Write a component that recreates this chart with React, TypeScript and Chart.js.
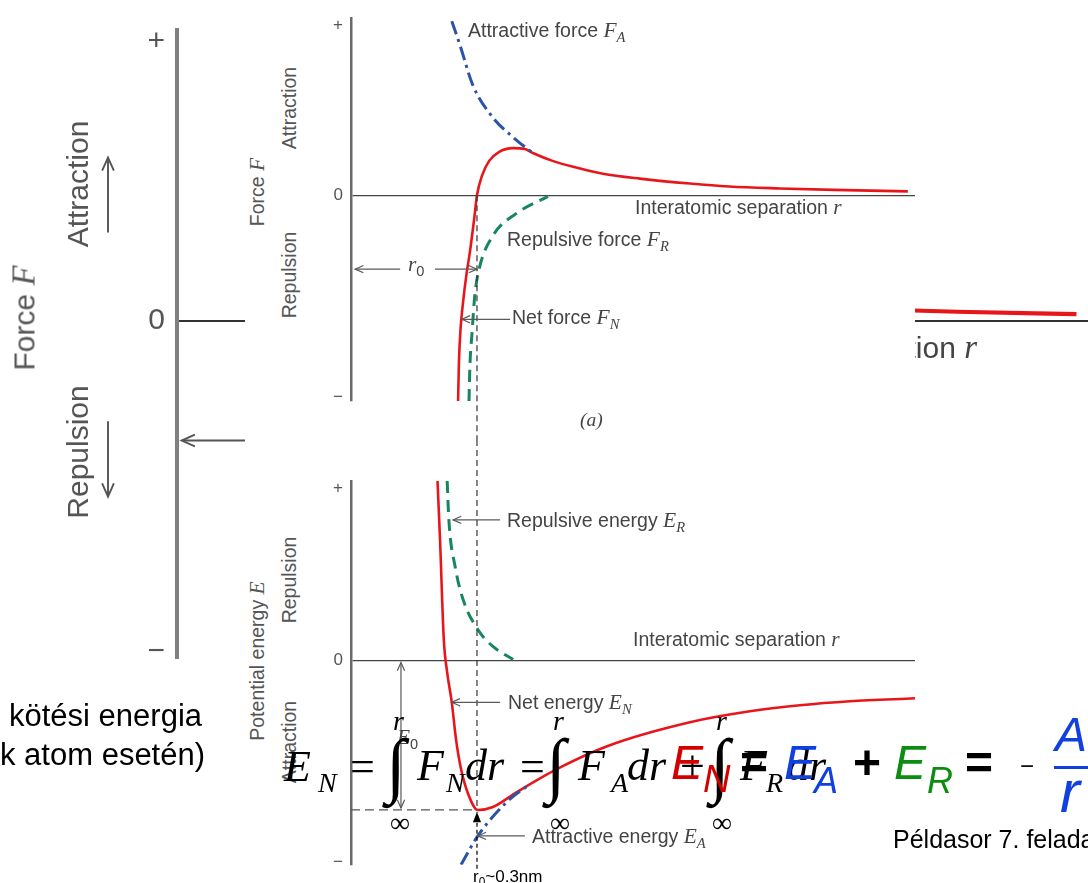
import React, { useEffect, useRef } from 'react';
import { Chart, registerables } from 'chart.js';
Chart.register(...registerables);

// ---------- data (r in nm, values in arbitrary units) ----------
const R_NET_FORCE = [0.255, 0.257, 0.261, 0.267, 0.275, 0.283, 0.293, 0.300, 0.312, 0.329, 0.352, 0.386, 0.414, 0.433, 0.480, 0.529, 0.600, 0.688, 0.807, 0.900, 1.021, 1.150, 1.326];
const NET_FORCE = [-2.09, -1.70, -1.35, -1.08, -0.80, -0.58, -0.25, 0, 0.20, 0.35, 0.44, 0.48, 0.47, 0.43, 0.35, 0.29, 0.22, 0.17, 0.12, 0.09, 0.07, 0.055, 0.04];
const R_ATTR_FORCE = [0.240, 0.260, 0.290, 0.338, 0.386, 0.433];
const ATTR_FORCE = [1.77, 1.52, 1.12, 0.79, 0.59, 0.43];
const R_REP_FORCE = [0.281, 0.283, 0.288, 0.295, 0.305, 0.338, 0.395, 0.469];
const REP_FORCE = [-2.09, -1.75, -1.41, -1.01, -0.75, -0.41, -0.18, -0.01];

const R_NET_ENERGY = [0.206, 0.212, 0.221, 0.229, 0.240, 0.250, 0.262, 0.279, 0.302, 0.338, 0.395, 0.490, 0.610, 0.807, 0.950, 1.069, 1.188, 1.343];
const NET_ENERGY = [1.80, 1.21, 0.21, -0.12, -0.42, -0.79, -1.09, -1.34, -1.50, -1.47, -1.32, -1.09, -0.86, -0.62, -0.51, -0.45, -0.41, -0.38];
const R_REP_ENERGY = [0.229, 0.233, 0.248, 0.267, 0.302, 0.338, 0.386];
const REP_ENERGY = [1.80, 1.41, 0.94, 0.61, 0.31, 0.14, 0.01];
const R_ATTR_ENERGY = [0.262, 0.302, 0.371, 0.426];
const ATTR_ENERGY = [-2.05, -1.76, -1.42, -1.24];

const R0 = 0.3;
const E0 = -1.5;
const R_MAX = 1.343;
const FORCE_RANGE = [-2.09, 1.80];
const ENERGY_RANGE = [-2.05, 1.80];
const FORCE_TICKS = [-2.05, 0, 1.73];
const ENERGY_TICKS = [-2.03, 0, 1.73];
const TICK_LABELS = ['\u2212', '0', '+'];

const RED = '#e8161b';
const GREEN = '#16875a';
const BLUE = '#2c54a6';
const SANS = '"Liberation Sans", Arial, Helvetica, sans-serif';
const SERIF = '"Liberation Serif", "Times New Roman", serif';

const zip = (xs: number[], ys: number[]) => xs.map((x, i) => ({ x, y: ys[i] }));

type XV = number | { dx: number };
type YV = number | 'top' | 'bottom';
type Item = { p1: [XV, YV]; p2: [XV, YV]; color?: string; width?: number; dash?: number[]; head?: 'open' | 'fill'; tail?: 'open' };

function makeDecor(items: Item[], scale = 1) {
  return {
    id: 'decor',
    afterDatasetsDraw(chart: any) {
      const ctx: CanvasRenderingContext2D = chart.ctx;
      const xs = chart.scales.x;
      const ys = chart.scales.y;
      const X = (v: XV) => (typeof v === 'object' ? chart.chartArea.left + v.dx : xs.getPixelForValue(v));
      const Y = (v: YV) => (v === 'top' ? 0 : v === 'bottom' ? chart.height : ys.getPixelForValue(v));
      const headLen = 9 * scale;
      const drawHead = (tx: number, ty: number, fx: number, fy: number, kind: string, color: string, w: number) => {
        const a = Math.atan2(ty - fy, tx - fx);
        ctx.save();
        ctx.setLineDash([]);
        ctx.strokeStyle = color;
        ctx.fillStyle = color;
        ctx.lineWidth = w;
        if (kind === 'fill') {
          const L = 11 * scale, H = 0.38;
          ctx.beginPath();
          ctx.moveTo(tx, ty);
          ctx.lineTo(tx - L * Math.cos(a - H), ty - L * Math.sin(a - H));
          ctx.lineTo(tx - L * Math.cos(a + H), ty - L * Math.sin(a + H));
          ctx.closePath();
          ctx.fill();
        } else {
          const H = 0.42;
          ctx.beginPath();
          ctx.moveTo(tx - headLen * Math.cos(a - H), ty - headLen * Math.sin(a - H));
          ctx.lineTo(tx, ty);
          ctx.lineTo(tx - headLen * Math.cos(a + H), ty - headLen * Math.sin(a + H));
          ctx.stroke();
        }
        ctx.restore();
      };
      items.forEach((it) => {
        const x1 = X(it.p1[0]), y1 = Y(it.p1[1]), x2 = X(it.p2[0]), y2 = Y(it.p2[1]);
        const color = it.color || '#5a5a5a';
        const w = (it.width || 1.2) * scale;
        ctx.save();
        ctx.strokeStyle = color;
        ctx.lineWidth = w;
        ctx.setLineDash((it.dash || []).map((d) => d * scale));
        ctx.beginPath();
        ctx.moveTo(x1, y1);
        ctx.lineTo(x2, y2);
        ctx.stroke();
        ctx.restore();
        if (it.head) drawHead(x2, y2, x1, y1, it.head, color, w);
        if (it.tail) drawHead(x1, y1, x2, y2, it.tail, color, w);
      });
    },
  };
}

const ds = (data: any[], color: string, width: number, dash: number[] = []) => ({
  data,
  borderColor: color,
  borderWidth: width,
  borderDash: dash,
  pointRadius: 0,
  fill: false,
  cubicInterpolationMode: 'monotone',
  borderCapStyle: 'butt',
});

type Cfg = {
  datasets: any[];
  range: number[];
  ticks: number[];
  axisWidth: number;
  pad: { top: number; bottom: number };
  tickSize: number;
  tickPad: number;
  tickColor: string;
  borderW: number;
  borderC: string;
  zeroW: number;
  zeroC: string;
  items: Item[];
  scale?: number;
};

function buildConfig(c: Cfg): any {
  return {
    type: 'line',
    data: { datasets: c.datasets },
    plugins: [makeDecor(c.items, c.scale || 1)],
    options: {
      animation: false,
      responsive: false,
      maintainAspectRatio: false,
      layout: { padding: { left: 0, right: 0, top: c.pad.top, bottom: c.pad.bottom } },
      plugins: { legend: { display: false }, tooltip: { enabled: false } },
      scales: {
        x: { type: 'linear', min: 0, max: R_MAX, display: false },
        y: {
          type: 'linear',
          position: 'left',
          min: c.range[0],
          max: c.range[1],
          afterFit: (s: any) => {
            s.width = c.axisWidth;
          },
          afterBuildTicks: (s: any) => {
            s.ticks = c.ticks.map((v) => ({ value: v }));
          },
          ticks: {
            callback: (_v: any, i: number) => TICK_LABELS[i],
            font: { family: SANS, size: c.tickSize },
            color: c.tickColor,
            padding: c.tickPad,
            autoSkip: false,
          },
          grid: {
            drawTicks: false,
            color: (ctx: any) => (ctx.tick && ctx.tick.value === 0 ? c.zeroC : 'rgba(0,0,0,0)'),
            lineWidth: c.zeroW,
          },
          border: { display: true, color: c.borderC, width: c.borderW },
        },
      },
    },
  };
}

function ChartBox({ left, top, width, height, cfg }: { left: number; top: number; width: number; height: number; cfg: Cfg }) {
  const ref = useRef<HTMLCanvasElement>(null);
  useEffect(() => {
    if (!ref.current) return;
    const chart = new Chart(ref.current, buildConfig(cfg));
    return () => chart.destroy();
  }, []);
  return (
    <canvas
      ref={ref}
      width={width}
      height={height}
      style={{ position: 'absolute', left, top, width, height, display: 'block' }}
    />
  );
}

// ---------- text helpers ----------
type LP = { x: number; y: number; size?: number; color?: string; children?: React.ReactNode };
function Lbl({ x, y, size = 19.5, color = '#444', children }: LP) {
  return (
    <div style={{ position: 'absolute', left: x, top: y, transform: 'translateY(-50%)', fontFamily: SANS, fontSize: size, color, lineHeight: 1, whiteSpace: 'nowrap' }}>
      {children}
    </div>
  );
}
function Rot({ x, y, size = 19.5, color = '#555', children }: LP) {
  return (
    <div style={{ position: 'absolute', left: x, top: y, transform: 'translate(-50%,-50%) rotate(-90deg)', fontFamily: SANS, fontSize: size, color, lineHeight: 1, whiteSpace: 'nowrap' }}>
      {children}
    </div>
  );
}
function M({ t, s, sans }: { t: string; s?: string; sans?: boolean }) {
  return (
    <span>
      <span style={{ fontFamily: SERIF, fontStyle: 'italic', fontSize: '1.1em' }}>{t}</span>
      {s && (
        <span style={{ fontFamily: sans ? SANS : SERIF, fontStyle: sans ? 'normal' : 'italic', fontSize: '0.75em', position: 'relative', top: '0.35em' }}>{s}</span>
      )}
    </span>
  );
}
type BP = { x: number; base: number; size: number; serif?: boolean; italic?: boolean; bold?: boolean; color?: string; children?: React.ReactNode };
function B({ x, base, size, serif = false, italic = false, bold = false, color = '#000', children }: BP) {
  const k = serif ? 0.838 : 0.846;
  return (
    <div style={{ position: 'absolute', left: x, top: base - size * k, fontFamily: serif ? SERIF : SANS, fontStyle: italic ? 'italic' : 'normal', fontWeight: bold ? 700 : 400, fontSize: size, lineHeight: 1, color, whiteSpace: 'nowrap' }}>
      {children}
    </div>
  );
}

function forceSets(k: number) {
  return [
    ds(zip(R_ATTR_FORCE, ATTR_FORCE), BLUE, 3 * k, [14 * k, 5 * k, 3 * k, 5 * k]),
    ds(zip(R_REP_FORCE, REP_FORCE), GREEN, 3 * k, [12 * k, 7 * k]),
    ds(zip(R_NET_FORCE, NET_FORCE), RED, 2.6 * k),
  ];
}

const BG_CFG: Cfg = {
  datasets: forceSets(1.6),
  range: FORCE_RANGE,
  ticks: FORCE_TICKS,
  axisWidth: 177,
  pad: { top: 29, bottom: 225 },
  tickSize: 30,
  tickPad: 12,
  tickColor: '#555',
  borderW: 4,
  borderC: '#808080',
  zeroW: 2,
  zeroC: '#333',
  scale: 1.6,
  items: [
    { p1: [{ dx: -69 }, 0.545], p2: [{ dx: -69 }, 1.01], head: 'open', color: '#555' },
    { p1: [{ dx: -69 }, -0.624], p2: [{ dx: -69 }, -1.09], head: 'open', color: '#555' },
    { p1: [0.2, -0.743], p2: [0.007, -0.743], head: 'open', color: '#555' },
  ],
};

const FORCE_CFG: Cfg = {
  datasets: forceSets(1),
  range: FORCE_RANGE,
  ticks: FORCE_TICKS,
  axisWidth: 30,
  pad: { top: 12, bottom: 39 },
  tickSize: 17,
  tickPad: 8,
  tickColor: '#555',
  borderW: 2.5,
  borderC: '#6a6a6a',
  zeroW: 1.3,
  zeroC: '#444',
  items: [
    { p1: [R0, 0], p2: [R0, 'bottom'], color: '#333', width: 1.2, dash: [6, 4] },
    { p1: [0.117, -0.75], p2: [0.01, -0.75], head: 'open' },
    { p1: [0.2, -0.75], p2: [R0, -0.75], head: 'open' },
    { p1: [0.379, -1.26], p2: [0.264, -1.26], head: 'open' },
    { p1: [{ dx: -42 }, 0.55], p2: [{ dx: -42 }, 1.0], head: 'open' },
    { p1: [{ dx: -42 }, -0.68], p2: [{ dx: -42 }, -1.11], head: 'open' },
  ],
};

const ENERGY_CFG: Cfg = {
  datasets: [
    ds(zip(R_ATTR_ENERGY, ATTR_ENERGY), BLUE, 3, [14, 5, 3, 5]),
    ds(zip(R_REP_ENERGY, REP_ENERGY), GREEN, 3, [12, 7]),
    ds(zip(R_NET_ENERGY, NET_ENERGY), RED, 2.6),
  ],
  range: ENERGY_RANGE,
  ticks: ENERGY_TICKS,
  axisWidth: 30,
  pad: { top: 41, bottom: 17 },
  tickSize: 17,
  tickPad: 8,
  tickColor: '#555',
  borderW: 2.5,
  borderC: '#6a6a6a',
  zeroW: 1.3,
  zeroC: '#444',
  items: [
    { p1: [R0, 'top'], p2: [R0, E0], color: '#333', width: 1.2, dash: [6, 4] },
    { p1: [R0, -2.09], p2: [R0, E0 - 0.02], color: '#000', width: 1.2, dash: [4, 3], head: 'fill' },
    { p1: [0, E0], p2: [R0, E0], color: '#555', width: 1.2, dash: [9, 5] },
    { p1: [0.119, -0.02], p2: [0.119, E0 + 0.02], head: 'open', tail: 'open' },
    { p1: [0.355, 1.41], p2: [0.243, 1.41], head: 'open' },
    { p1: [0.355, -0.42], p2: [0.240, -0.42], head: 'open' },
    { p1: [0.414, -1.76], p2: [0.302, -1.76], head: 'open' },
    { p1: [{ dx: -42 }, 0.61], p2: [{ dx: -42 }, 1.08], head: 'open' },
    { p1: [{ dx: -42 }, -0.56], p2: [{ dx: -42 }, -0.99], head: 'open' },
  ],
};

export default function App() {
  return (
    <div style={{ position: 'absolute', left: 0, top: 0, width: 1088, height: 883, overflow: 'hidden', background: '#fff' }}>
      {/* background (enlarged) force chart */}
      <ChartBox left={0} top={0} width={1088} height={883} cfg={BG_CFG} />
      <Rot x={24} y={318} size={30}>
        Force <M t="F" />
      </Rot>
      <Rot x={78} y={184} size={30}>Attraction</Rot>
      <Rot x={78} y={452} size={30}>Repulsion</Rot>
      <div style={{ position: 'absolute', right: 1088 - 977, top: 347, transform: 'translateY(-50%)', fontFamily: SANS, fontSize: 30, color: '#444', lineHeight: 1, whiteSpace: 'nowrap' }}>
        Interatomic separation <M t="r" />
      </div>

      {/* left slide text */}
      <B x={9} base={726} size={31}>kötési energia</B>
      <B x={0} base={765} size={31}>k atom esetén)</B>

      {/* foreground figure panel */}
      <div style={{ position: 'absolute', left: 245, top: 0, width: 670, height: 883, background: '#fff' }} />
      <ChartBox left={321} top={0} width={594} height={440} cfg={FORCE_CFG} />
      <ChartBox left={321} top={440} width={594} height={443} cfg={ENERGY_CFG} />

      <Rot x={258} y={192}>
        Force <M t="F" />
      </Rot>
      <Rot x={290} y={108}>Attraction</Rot>
      <Rot x={290} y={275}>Repulsion</Rot>
      <Rot x={258} y={661}>
        Potential energy <M t="E" />
      </Rot>
      <Rot x={290} y={580}>Repulsion</Rot>
      <Rot x={290} y={742}>Attraction</Rot>

      <Lbl x={468} y={31}>
        Attractive force <M t="F" s="A" />
      </Lbl>
      <Lbl x={635} y={208}>
        Interatomic separation <M t="r" />
      </Lbl>
      <Lbl x={507} y={240}>
        Repulsive force <M t="F" s="R" />
      </Lbl>
      <Lbl x={408} y={265}>
        <M t="r" s="0" sans />
      </Lbl>
      <Lbl x={512} y={318}>
        Net force <M t="F" s="N" />
      </Lbl>
      <Lbl x={580} y={420}>
        <span style={{ fontFamily: SERIF, fontStyle: 'italic' }}>(a)</span>
      </Lbl>
      <Lbl x={507} y={521}>
        Repulsive energy <M t="E" s="R" />
      </Lbl>
      <Lbl x={633} y={640}>
        Interatomic separation <M t="r" />
      </Lbl>
      <Lbl x={508} y={703}>
        Net energy <M t="E" s="N" />
      </Lbl>
      <Lbl x={532} y={837}>
        Attractive energy <M t="E" s="A" />
      </Lbl>
      <Lbl x={397} y={738}>
        <M t="E" s="0" sans />
      </Lbl>
      <Lbl x={473} y={876} size={17} color="#000">
        r<span style={{ fontSize: '0.7em', position: 'relative', top: '0.3em' }}>0</span>~0.3nm
      </Lbl>

      {/* formula 1: integrals (Times) */}
      <B x={284} base={782} size={44} serif italic>E</B>
      <B x={318} base={792} size={28} serif italic>N</B>
      <B x={350} base={782} size={44} serif>=</B>
      <B x={386} base={789} size={72} serif>∫</B>
      <B x={393} base={730} size={28} serif italic>r</B>
      <B x={390} base={832} size={28} serif>∞</B>
      <B x={417} base={781} size={44} serif italic>F</B>
      <B x={446} base={792} size={28} serif italic>N</B>
      <B x={465} base={781} size={44} serif italic>dr</B>
      <B x={520} base={782} size={44} serif>=</B>
      <B x={546} base={789} size={72} serif>∫</B>
      <B x={553} base={730} size={28} serif italic>r</B>
      <B x={550} base={832} size={28} serif>∞</B>
      <B x={578} base={781} size={44} serif italic>F</B>
      <B x={611} base={792} size={28} serif italic>A</B>
      <B x={627} base={781} size={44} serif italic>dr</B>
      <B x={680} base={782} size={44} serif>+</B>
      <B x={710} base={789} size={72} serif>∫</B>
      <B x={716} base={730} size={28} serif italic>r</B>
      <B x={712} base={832} size={28} serif>∞</B>
      <B x={740} base={781} size={44} serif italic>F</B>
      <B x={766} base={792} size={28} serif italic>R</B>
      <B x={787} base={781} size={44} serif italic>dr</B>

      {/* formula 2: E_N = E_A + E_R = -A/r */}
      <B x={671} base={780} size={48} italic color="#d40000">E</B>
      <B x={703} base={792} size={38} italic color="#d40000">N</B>
      <B x={740} base={780} size={48} bold>=</B>
      <B x={784} base={780} size={48} italic color="#1040e0">E</B>
      <B x={814} base={793} size={36} italic color="#1040e0">A</B>
      <B x={853} base={780} size={48} bold>+</B>
      <B x={894} base={780} size={48} italic color="#0c8c10">E</B>
      <B x={927} base={793} size={36} italic color="#0c8c10">R</B>
      <B x={965} base={780} size={48} bold>=</B>
      <B x={1020} base={774} size={24}>{'\u2212'}</B>
      <B x={1055} base={752} size={48} italic color="#1040e0">A</B>
      <div style={{ position: 'absolute', left: 1054, top: 766, width: 40, height: 2.5, background: '#1040e0' }} />
      <B x={1060} base={813} size={60} italic color="#1040e0">r</B>

      <B x={893} base={848} size={25}>Példasor 7. feladat</B>
    </div>
  );
}
